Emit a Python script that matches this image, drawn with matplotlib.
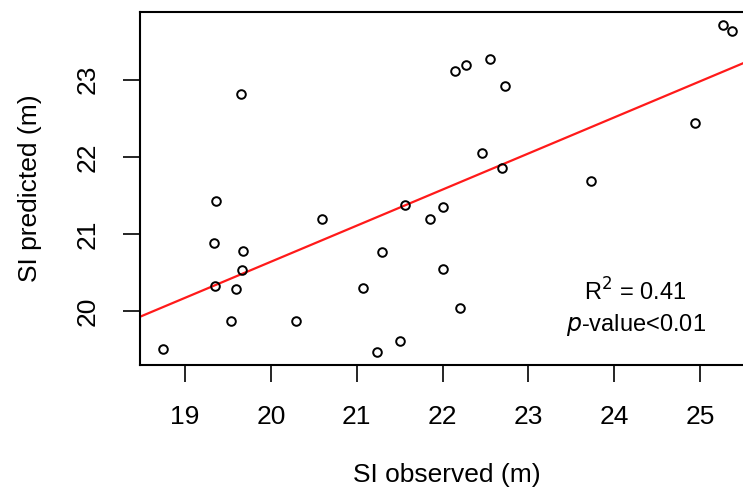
import matplotlib
matplotlib.use("Agg")
import matplotlib.pyplot as plt
import numpy as np

# observed / predicted site index values
si_observed = [18.74, 19.34, 19.36, 19.35, 19.54, 19.59, 19.65, 19.67, 19.66, 20.29,
               20.60, 21.07, 21.24, 21.29, 21.50, 21.56, 21.85, 22.00, 22.01, 22.14,
               22.20, 22.27, 22.46, 22.55, 22.69, 22.73, 23.73, 24.94, 25.27, 25.37]
si_predicted = [19.51, 20.88, 21.43, 20.33, 19.87, 20.29, 22.82, 20.78, 20.53, 19.87,
                21.19, 20.30, 19.47, 20.76, 19.61, 21.38, 21.19, 21.35, 20.55, 23.11,
                20.04, 23.19, 22.05, 23.27, 21.86, 22.92, 21.69, 22.44, 23.71, 23.63]

# fitted regression line
fit_slope = 0.468
fit_intercept = 11.28

x_ticks = [19, 20, 21, 22, 23, 24, 25]
y_ticks = [20, 21, 22, 23]

plt.rcParams['font.family'] = ['Liberation Sans', 'DejaVu Sans']

fig = plt.figure(figsize=(7.43, 4.93), dpi=100)
ax = fig.add_axes([140 / 743, 1 - 365 / 493, 614.5 / 743, 353 / 493])

ax.plot(si_observed, si_predicted, 'o', mfc='none', mec='black', ms=6.2, mew=1.4,
        zorder=3)
ax.axline((0, fit_intercept), slope=fit_slope, color='#ff1a1a', lw=1.6, zorder=2)

x = np.array(si_observed)
y = np.array(si_predicted)
pad_x = (x.max() - x.min()) * 0.04
pad_y = (y.max() - y.min()) * 0.04
ax.set_xlim(x.min() - pad_x, x.max() + pad_x)
ax.set_ylim(y.min() - pad_y, y.max() + pad_y)

ax.set_xticks(x_ticks)
ax.set_yticks(y_ticks)
ax.tick_params(direction='out', length=12, width=1.2, labelsize=19, pad=17)
ax.tick_params(axis='y', labelrotation=90)
for lab in ax.get_yticklabels():
    lab.set_va('center')

for side in ['left', 'bottom', 'top']:
    ax.spines[side].set_linewidth(1.5)
ax.spines['right'].set_visible(False)

ax.set_xlabel('SI observed (m)', fontsize=19, labelpad=24)
ax.set_ylabel('SI predicted (m)', fontsize=19, labelpad=24)

ax.text(24.25, 20.14, r'R$^2$ = 0.41', fontsize=17, ha='center', va='baseline')
ax.text(24.25, 19.74, r'$\mathit{p}$-value<0.01', fontsize=17, ha='center', va='baseline')

fig.savefig('out.png', dpi=100)
